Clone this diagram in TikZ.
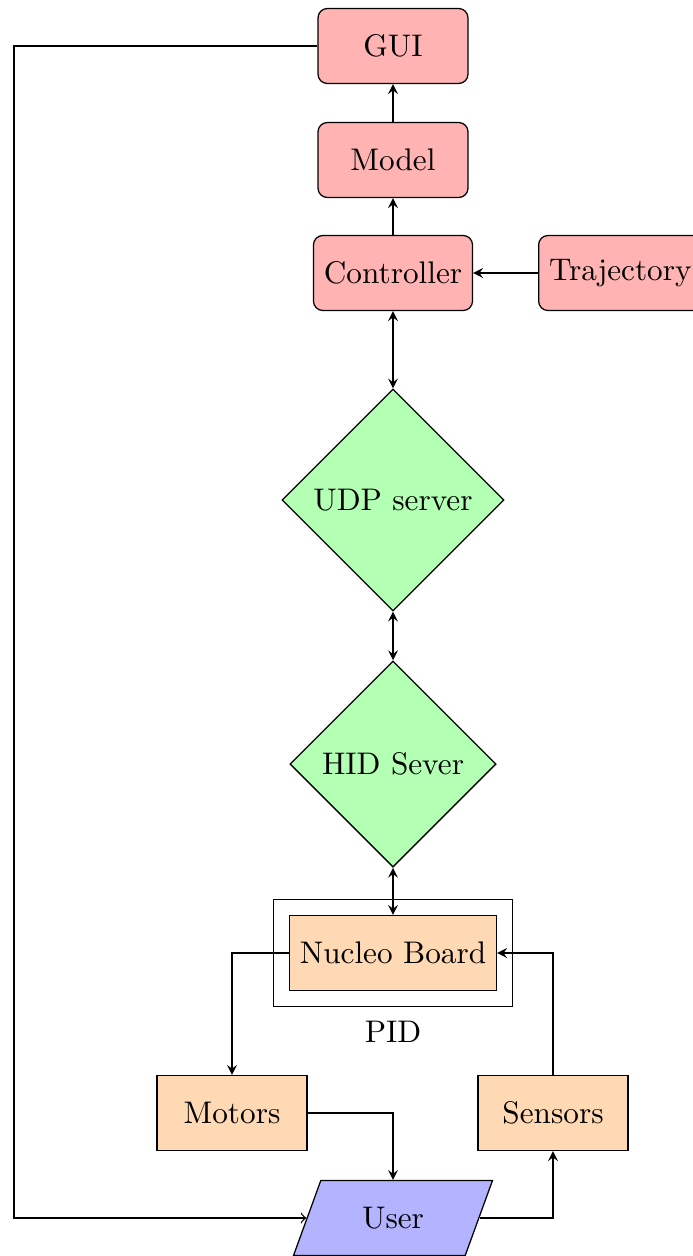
\documentclass[tikz,border=0pt]{standalone}
\usetikzlibrary{shapes.geometric,fit}
\definecolor{boxred}{RGB}{255,179,179}
\definecolor{boxgreen}{RGB}{179,255,179}
\definecolor{boxorange}{RGB}{255,217,179}
\definecolor{boxblue}{RGB}{179,179,255}
\tikzset{
  redbox/.style={draw, rounded corners=3pt, fill=boxred, minimum width=48pt, minimum height=24pt},
  greendia/.style={draw, diamond, aspect=1, inner sep=1pt, fill=boxgreen},
  orangebox/.style={draw, fill=boxorange, minimum width=48pt, minimum height=24pt},
  userbox/.style={draw, trapezium, trapezium left angle=70, trapezium right angle=110, fill=boxblue, minimum width=64pt, minimum height=24pt},
  arr/.style={-stealth},
  arrtwo/.style={stealth-stealth},
}
\begin{document}
\begin{tikzpicture}[x=0.32pt, y=-0.32pt]
\useasboundingbox (0,0) rectangle (692,1256);
\node[redbox] (gui) at (393,46) {GUI};
\node[redbox] (model) at (393,160) {Model};
\node[redbox] (ctrl) at (393,273) {Controller};
\node[redbox, anchor=west] (traj) at (538,273) {Trajectory};
\node[greendia, minimum width=71pt, minimum height=71pt] (udp) at (393,500) {UDP server};
\node[greendia, minimum width=66pt, minimum height=66pt] (hid) at (393,764) {HID Sever};
\node[orangebox, minimum width=66pt] (nb) at (393,953) {Nucleo Board};
\node[draw, fit=(nb), inner sep=5pt, label={[yshift=-1pt]below:PID}] (pid) {};
\node[orangebox] (motors) at (232,1113) {Motors};
\node[orangebox] (sensors) at (553,1113) {Sensors};
\node[userbox] (user) at (393,1218) {User};
\coordinate (lft) at (14,46);
\draw[arr] (model) -- (gui);
\draw[arr] (ctrl) -- (model);
\draw[arr] (traj) -- (ctrl);
\draw[arrtwo] (ctrl) -- (udp);
\draw[arrtwo] (udp) -- (hid);
\draw[arrtwo] (hid) -- (nb);
\draw[arr] (nb.west) -| (motors.north);
\draw[arr] (sensors.north) |- (nb.east);
\draw[arr] (motors.east) -| (user.north);
\draw[arr] (user.east) -| (sensors.south);
\draw[->] (gui.west) -- (lft) |- (user.west);
\end{tikzpicture}
\end{document}
